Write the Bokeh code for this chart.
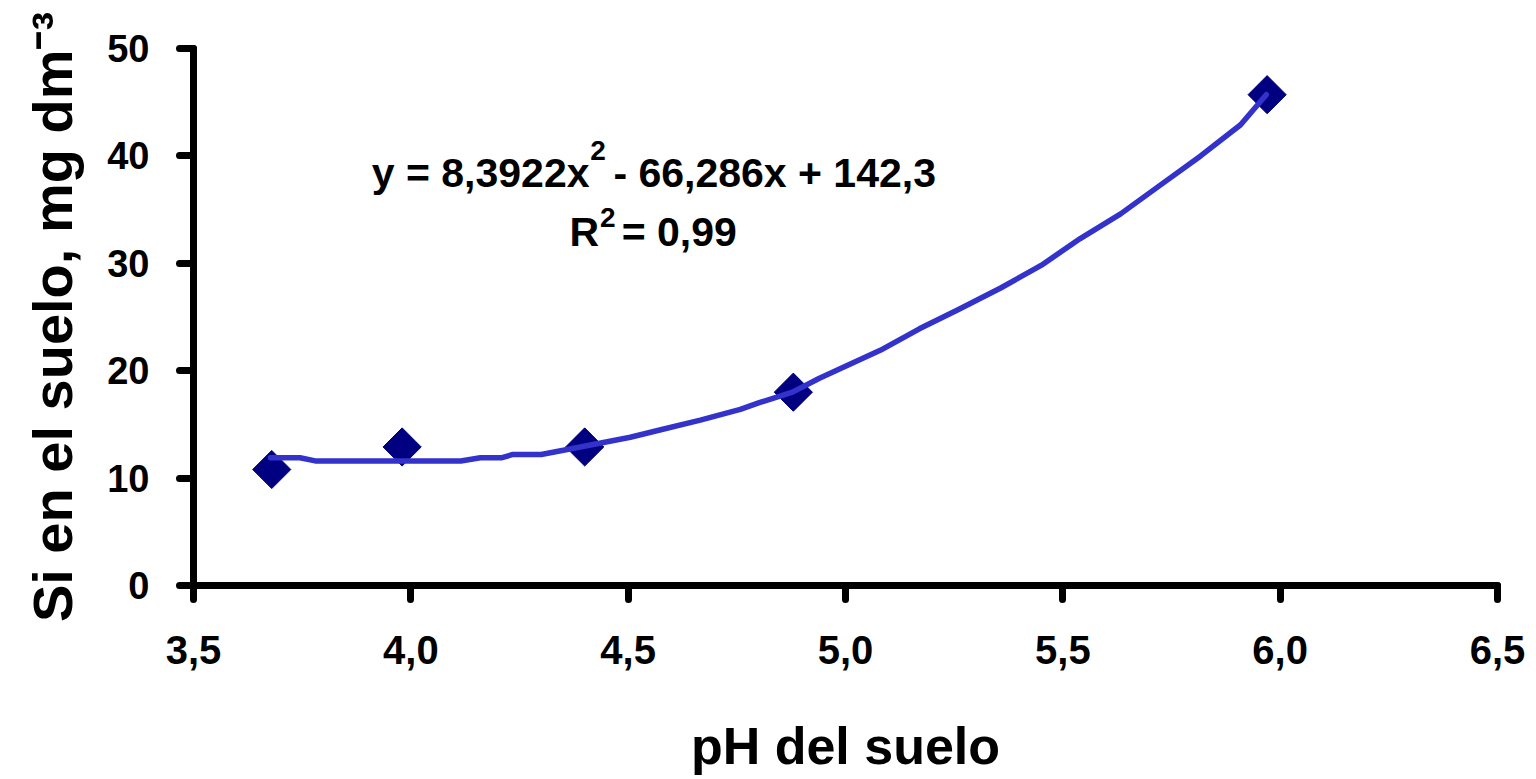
import numpy as np
from bokeh.plotting import figure
from bokeh.models import Range1d, FixedTicker, Label
from bokeh.embed import file_html
from bokeh.resources import INLINE

# measured data points
ph_obs = [3.68, 3.98, 4.40, 4.88, 5.97]
si_obs = [10.8, 12.9, 12.9, 18.0, 45.7]

# trend line
ph_fit = [3.677, 3.745, 3.78, 4.115, 4.16, 4.21, 4.235, 4.30, 4.39, 4.505, 4.575,
          4.666, 4.758, 4.80, 4.878, 4.94, 5.01, 5.08, 5.17, 5.26, 5.357, 5.45,
          5.54, 5.633, 5.725, 5.817, 5.909, 5.968]
si_fit = [11.9, 11.9, 11.6, 11.6, 11.9, 11.9, 12.2, 12.2, 12.9, 13.8, 14.5,
          15.4, 16.4, 17.0, 18.0, 19.3, 20.6, 21.9, 23.9, 25.7, 27.7, 29.8,
          32.3, 34.6, 37.3, 40.0, 42.9, 45.7]

x_ticks = [3.5, 4.0, 4.5, 5.0, 5.5, 6.0, 6.5]
x_tick_labels = ["3,5", "4,0", "4,5", "5,0", "5,5", "6,0", "6,5"]
y_ticks = [0, 10, 20, 30, 40, 50]

FONT = "Liberation Sans"

p = figure(width=1536, height=779, output_backend="svg", toolbar_location=None,
           x_range=Range1d(3.5, 6.5), y_range=Range1d(0, 50),
           min_border_left=193, min_border_right=39, min_border_top=48,
           min_border_bottom=194)
p.outline_line_color = None
p.grid.visible = False
p.background_fill_color = "white"
p.border_fill_color = "white"

for ax in (p.xaxis, p.yaxis):
    ax.axis_line_width = 7
    ax.axis_line_color = "black"
    ax.axis_line_cap = "round"
    ax.major_tick_line_width = 7
    ax.major_tick_line_cap = "round"
    ax.major_tick_line_color = "black"
    ax.major_tick_in = 0
    ax.major_tick_out = 14
    ax.minor_tick_line_color = None
    ax.major_label_text_font = FONT
    ax.major_label_text_font_style = "bold"
    ax.major_label_text_color = "black"
    ax.axis_label_text_font = FONT
    ax.axis_label_text_font_style = "bold"
    ax.axis_label_text_color = "black"

p.xaxis.ticker = FixedTicker(ticks=x_ticks)
p.xaxis.major_label_overrides = {t: l for t, l in zip(x_ticks, x_tick_labels)}
p.xaxis.major_label_text_font_size = "40px"
p.xaxis.major_label_standoff = 36
p.xaxis.axis_label = "pH del suelo"
p.xaxis.axis_label_text_font_size = "52px"
p.xaxis.axis_label_standoff = 50

p.yaxis.ticker = FixedTicker(ticks=y_ticks)
p.yaxis.major_label_text_font_size = "38px"
p.yaxis.major_label_standoff = 30
p.yaxis.axis_label = "Si en el suelo, mg dm\u207b\u00b3"
p.yaxis.axis_label_text_font_size = "56px"
p.yaxis.axis_label_standoff = 20

p.scatter(ph_obs, si_obs, marker="square", angle=np.pi / 4, size=27,
          fill_color="#000080", line_color="#000080")
p.line(ph_fit, si_fit, line_color="#3333CC", line_width=5.5, line_cap="round",
       line_join="round")

def lab(x, y, text, size, align="left", angle=0.0):
    p.add_layout(Label(x=x, y=y, text=text, text_font=FONT, text_font_style="bold",
                       text_font_size=size, text_align=align, angle=angle,
                       text_baseline="alphabetic", text_color="black"))

# equation
lab(4.411, 38.45, "y = 8,3922x", "41px", "right")
lab(4.413, 40.5, "2", "28px")
lab(4.466, 38.45, "- 66,286x + 142,3", "41px")
lab(4.433, 32.87, "R", "41px", "right")
lab(4.435, 34.26, "2", "28px")
lab(4.485, 32.87, "= 0,99", "41px")

open("out.html", "w").write(file_html(p, INLINE))
